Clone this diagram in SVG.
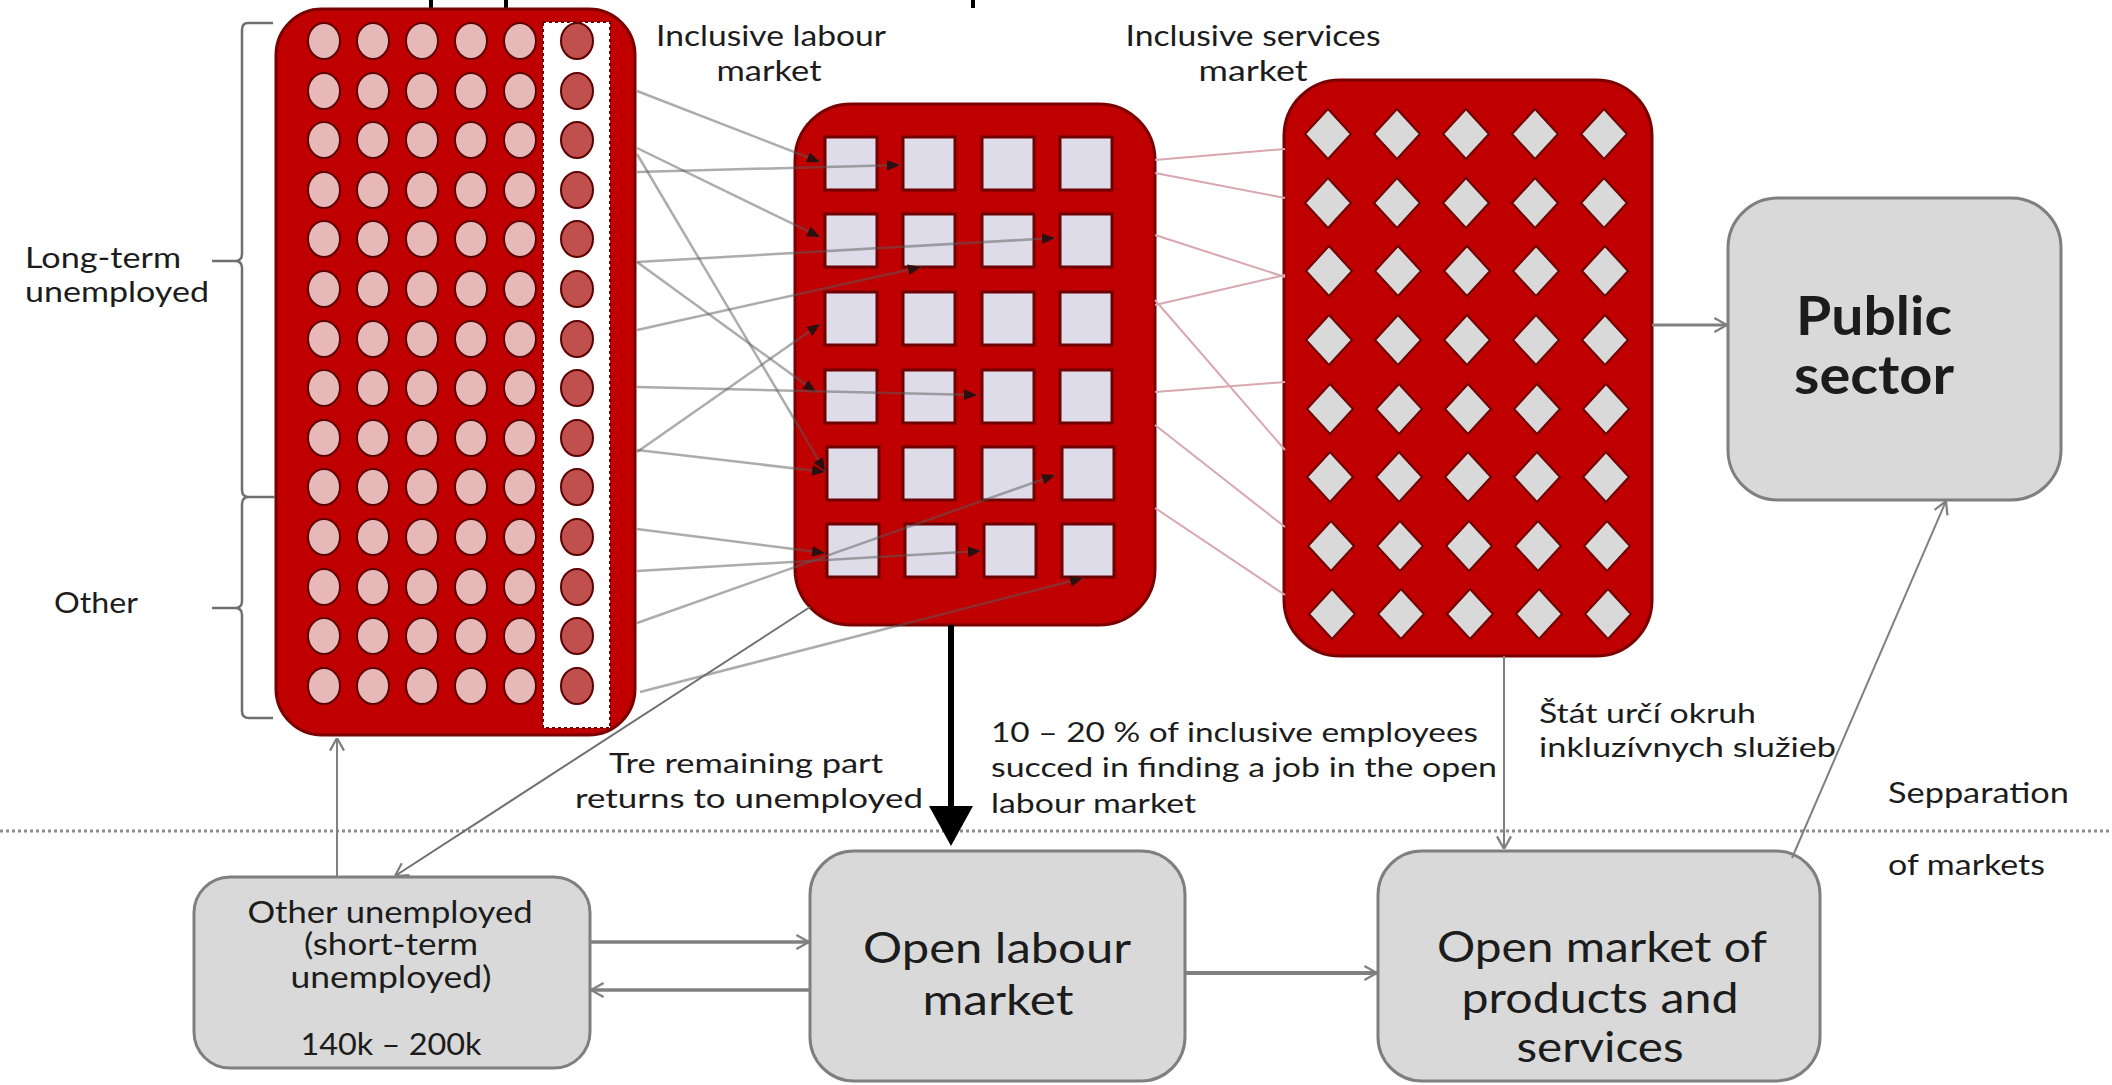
<svg xmlns="http://www.w3.org/2000/svg" xmlns:xlink="http://www.w3.org/1999/xlink" width="2112" height="1085" viewBox="0 0 2112 1085">
  <style>
    .txt { font-family: Lato, "Liberation Sans", sans-serif; fill: #1c1c1c; }
    .s28 { font-size: 28px; }
    .s27 { font-size: 27px; }
    .s30 { font-size: 30px; }
    .s42 { font-size: 42px; }
    .s54 { font-size: 54px; font-weight: bold; }
    .redbox { fill: #c00000; stroke: #7a0000; stroke-width: 3; }
    .greybox { fill: #d9d9d9; stroke: #7f7f7f; stroke-width: 3; }
    .dotL { fill: #e6b9b8; stroke: #5e0000; stroke-width: 2; }
    .dotD { fill: #c0504d; stroke: #5e0000; stroke-width: 2; }
    .sq { fill: #dedce9; stroke: #6e0000; stroke-width: 3; }
    .dia { fill: #d9d9d9; stroke: #6e0000; stroke-width: 2; }
    .flow { stroke: #5a5a5a; stroke-opacity: 0.5; stroke-width: 2.5; fill: none; }
    .pink { stroke: #d9a7b0; stroke-width: 2; fill: none; }
    .grey { stroke: #808080; fill: none; }
    .brace { stroke: #6f6f6f; stroke-width: 2.5; fill: none; }
  </style>
  <defs>
    <marker id="head-flow" viewBox="0 0 12 10" refX="12" refY="5" markerWidth="13" markerHeight="11" markerUnits="userSpaceOnUse" orient="auto">
      <path d="M0,0 L12,5 L0,10 z" fill="#2b1010"/>
    </marker>
    <marker id="head-open" viewBox="0 0 10 12" refX="10" refY="6" markerWidth="14" markerHeight="17" markerUnits="userSpaceOnUse" orient="auto">
      <path d="M1,1 L10,6 L1,11" fill="none" stroke="#7f7f7f" stroke-width="1.6"/>
    </marker>
    <marker id="head-big" viewBox="0 0 40 44" refX="12" refY="22" markerWidth="40" markerHeight="44" markerUnits="userSpaceOnUse" orient="auto">
      <path d="M0,0 L40,22 L0,44 z" fill="#000"/>
    </marker>
    <ellipse id="dot" cx="0" cy="0" rx="16" ry="18"/>
    <rect id="cell" x="0" y="0" width="52" height="53"/>
    <path id="dm" d="M0,-25 L23,0 L0,25 L-23,0 z"/>
  </defs>

  <rect width="2112" height="1085" fill="#ffffff"/>

  <!-- descenders of the heading that runs above the top edge -->
  <g id="heading-edge" stroke="#000" stroke-width="4">
    <line x1="431" y1="0" x2="431" y2="10"/>
    <line x1="506" y1="0" x2="506" y2="10"/>
    <line x1="973" y1="0" x2="973" y2="8"/>
  </g>

  <!-- unemployed pool -->
  <g id="unemployed-pool">
    <rect class="redbox" x="276" y="9" width="359" height="726" rx="46"/>
    <rect x="543" y="22" width="67" height="706" fill="#ffffff" stroke="#6e0000" stroke-width="2" stroke-dasharray="3 3"/>
    <g class="dotL">
      <use href="#dot" x="324" y="41"/><use href="#dot" x="373" y="41"/><use href="#dot" x="422" y="41"/><use href="#dot" x="471" y="41"/><use href="#dot" x="520" y="41"/>
      <use href="#dot" x="324" y="91"/><use href="#dot" x="373" y="91"/><use href="#dot" x="422" y="91"/><use href="#dot" x="471" y="91"/><use href="#dot" x="520" y="91"/>
      <use href="#dot" x="324" y="140"/><use href="#dot" x="373" y="140"/><use href="#dot" x="422" y="140"/><use href="#dot" x="471" y="140"/><use href="#dot" x="520" y="140"/>
      <use href="#dot" x="324" y="190"/><use href="#dot" x="373" y="190"/><use href="#dot" x="422" y="190"/><use href="#dot" x="471" y="190"/><use href="#dot" x="520" y="190"/>
      <use href="#dot" x="324" y="239"/><use href="#dot" x="373" y="239"/><use href="#dot" x="422" y="239"/><use href="#dot" x="471" y="239"/><use href="#dot" x="520" y="239"/>
      <use href="#dot" x="324" y="289"/><use href="#dot" x="373" y="289"/><use href="#dot" x="422" y="289"/><use href="#dot" x="471" y="289"/><use href="#dot" x="520" y="289"/>
      <use href="#dot" x="324" y="339"/><use href="#dot" x="373" y="339"/><use href="#dot" x="422" y="339"/><use href="#dot" x="471" y="339"/><use href="#dot" x="520" y="339"/>
      <use href="#dot" x="324" y="388"/><use href="#dot" x="373" y="388"/><use href="#dot" x="422" y="388"/><use href="#dot" x="471" y="388"/><use href="#dot" x="520" y="388"/>
      <use href="#dot" x="324" y="438"/><use href="#dot" x="373" y="438"/><use href="#dot" x="422" y="438"/><use href="#dot" x="471" y="438"/><use href="#dot" x="520" y="438"/>
      <use href="#dot" x="324" y="487"/><use href="#dot" x="373" y="487"/><use href="#dot" x="422" y="487"/><use href="#dot" x="471" y="487"/><use href="#dot" x="520" y="487"/>
      <use href="#dot" x="324" y="537"/><use href="#dot" x="373" y="537"/><use href="#dot" x="422" y="537"/><use href="#dot" x="471" y="537"/><use href="#dot" x="520" y="537"/>
      <use href="#dot" x="324" y="587"/><use href="#dot" x="373" y="587"/><use href="#dot" x="422" y="587"/><use href="#dot" x="471" y="587"/><use href="#dot" x="520" y="587"/>
      <use href="#dot" x="324" y="636"/><use href="#dot" x="373" y="636"/><use href="#dot" x="422" y="636"/><use href="#dot" x="471" y="636"/><use href="#dot" x="520" y="636"/>
      <use href="#dot" x="324" y="686"/><use href="#dot" x="373" y="686"/><use href="#dot" x="422" y="686"/><use href="#dot" x="471" y="686"/><use href="#dot" x="520" y="686"/>
    </g>
    <g class="dotD">
      <use href="#dot" x="577" y="41"/><use href="#dot" x="577" y="91"/><use href="#dot" x="577" y="140"/><use href="#dot" x="577" y="190"/>
      <use href="#dot" x="577" y="239"/><use href="#dot" x="577" y="289"/><use href="#dot" x="577" y="339"/><use href="#dot" x="577" y="388"/>
      <use href="#dot" x="577" y="438"/><use href="#dot" x="577" y="487"/><use href="#dot" x="577" y="537"/><use href="#dot" x="577" y="587"/>
      <use href="#dot" x="577" y="636"/><use href="#dot" x="577" y="686"/>
    </g>
  </g>

  <!-- braces and group labels -->
  <g id="group-labels">
    <path class="brace" d="M273,23 L248,23 Q242,23 242,30 L242,254 Q242,261 235,261 L212,261 M235,261 Q242,261 242,268 L242,490 Q242,497 249,497 L275,497 M249,497 Q242,497 242,504 L242,601 Q242,608 235,608 L212,608 M235,608 Q242,608 242,615 L242,711 Q242,718 249,718 L273,718"/>
    <text class="txt s28" x="25" y="268" textLength="156" lengthAdjust="spacingAndGlyphs">Long-term</text>
    <text class="txt s28" x="25" y="302" textLength="184" lengthAdjust="spacingAndGlyphs">unemployed</text>
    <text class="txt s28" x="54" y="613" textLength="84" lengthAdjust="spacingAndGlyphs">Other</text>
  </g>

  <!-- inclusive labour market -->
  <g id="inclusive-labour-market">
    <rect class="redbox" x="795" y="104" width="360" height="521" rx="56"/>
    <g class="sq">
      <use href="#cell" x="825" y="137"/><use href="#cell" x="903" y="137"/><use href="#cell" x="982" y="137"/><use href="#cell" x="1060" y="137"/>
      <use href="#cell" x="825" y="214"/><use href="#cell" x="903" y="214"/><use href="#cell" x="982" y="214"/><use href="#cell" x="1060" y="214"/>
      <use href="#cell" x="825" y="292"/><use href="#cell" x="903" y="292"/><use href="#cell" x="982" y="292"/><use href="#cell" x="1060" y="292"/>
      <use href="#cell" x="825" y="370"/><use href="#cell" x="903" y="370"/><use href="#cell" x="982" y="370"/><use href="#cell" x="1060" y="370"/>
      <use href="#cell" x="827" y="447"/><use href="#cell" x="903" y="447"/><use href="#cell" x="982" y="447"/><use href="#cell" x="1062" y="447"/>
      <use href="#cell" x="827" y="524"/><use href="#cell" x="905" y="524"/><use href="#cell" x="984" y="524"/><use href="#cell" x="1062" y="524"/>
    </g>
    <text class="txt s28" x="771" y="46" text-anchor="middle" textLength="230" lengthAdjust="spacingAndGlyphs">Inclusive labour</text>
    <text class="txt s28" x="769" y="81" text-anchor="middle" textLength="105" lengthAdjust="spacingAndGlyphs">market</text>
  </g>

  <!-- inclusive services market -->
  <g id="inclusive-services-market">
    <rect class="redbox" x="1284" y="80" width="368" height="576" rx="56"/>
    <g class="dia">
      <use href="#dm" x="1328" y="134"/><use href="#dm" x="1397" y="134"/><use href="#dm" x="1466" y="134"/><use href="#dm" x="1535" y="134"/><use href="#dm" x="1604" y="134"/>
      <use href="#dm" x="1328" y="203"/><use href="#dm" x="1397" y="203"/><use href="#dm" x="1466" y="203"/><use href="#dm" x="1535" y="203"/><use href="#dm" x="1604" y="203"/>
      <use href="#dm" x="1329" y="271"/><use href="#dm" x="1398" y="271"/><use href="#dm" x="1467" y="271"/><use href="#dm" x="1536" y="271"/><use href="#dm" x="1605" y="271"/>
      <use href="#dm" x="1329" y="340"/><use href="#dm" x="1398" y="340"/><use href="#dm" x="1467" y="340"/><use href="#dm" x="1536" y="340"/><use href="#dm" x="1605" y="340"/>
      <use href="#dm" x="1330" y="409"/><use href="#dm" x="1399" y="409"/><use href="#dm" x="1468" y="409"/><use href="#dm" x="1537" y="409"/><use href="#dm" x="1606" y="409"/>
      <use href="#dm" x="1330" y="477"/><use href="#dm" x="1399" y="477"/><use href="#dm" x="1468" y="477"/><use href="#dm" x="1537" y="477"/><use href="#dm" x="1606" y="477"/>
      <use href="#dm" x="1331" y="546"/><use href="#dm" x="1400" y="546"/><use href="#dm" x="1469" y="546"/><use href="#dm" x="1538" y="546"/><use href="#dm" x="1607" y="546"/>
      <use href="#dm" x="1332" y="614"/><use href="#dm" x="1401" y="614"/><use href="#dm" x="1470" y="614"/><use href="#dm" x="1539" y="614"/><use href="#dm" x="1608" y="614"/>
    </g>
    <text class="txt s28" x="1253" y="46" text-anchor="middle" textLength="255" lengthAdjust="spacingAndGlyphs">Inclusive services</text>
    <text class="txt s28" x="1253" y="81" text-anchor="middle" textLength="109" lengthAdjust="spacingAndGlyphs">market</text>
  </g>

  <!-- public sector -->
  <g id="public-sector">
    <rect class="greybox" x="1728" y="198" width="333" height="302" rx="50"/>
    <text class="txt s54" x="1874" y="335" text-anchor="middle" textLength="156" lengthAdjust="spacingAndGlyphs">Public</text>
    <text class="txt s54" x="1874" y="394" text-anchor="middle" textLength="160" lengthAdjust="spacingAndGlyphs">sector</text>
  </g>

  <!-- other unemployed -->
  <g id="other-unemployed">
    <rect class="greybox" x="194" y="877" width="396" height="191" rx="36"/>
    <text class="txt s30" x="390" y="923" text-anchor="middle" textLength="285" lengthAdjust="spacingAndGlyphs">Other unemployed</text>
    <text class="txt s30" x="391" y="955" text-anchor="middle" textLength="174" lengthAdjust="spacingAndGlyphs">(short-term</text>
    <text class="txt s30" x="391" y="988" text-anchor="middle" textLength="201" lengthAdjust="spacingAndGlyphs">unemployed)</text>
    <text class="txt s30" x="391" y="1055" text-anchor="middle" textLength="181" lengthAdjust="spacingAndGlyphs">140k – 200k</text>
  </g>

  <!-- open labour market -->
  <g id="open-labour-market">
    <rect class="greybox" x="810" y="851" width="375" height="230" rx="44"/>
    <text class="txt s42" x="997" y="963" text-anchor="middle" textLength="268" lengthAdjust="spacingAndGlyphs">Open labour</text>
    <text class="txt s42" x="998" y="1015" text-anchor="middle" textLength="151" lengthAdjust="spacingAndGlyphs">market</text>
  </g>

  <!-- open market of products and services -->
  <g id="open-products-market">
    <rect class="greybox" x="1378" y="851" width="442" height="230" rx="44"/>
    <text class="txt s42" x="1602" y="962" text-anchor="middle" textLength="330" lengthAdjust="spacingAndGlyphs">Open market of</text>
    <text class="txt s42" x="1600" y="1013" text-anchor="middle" textLength="277" lengthAdjust="spacingAndGlyphs">products and</text>
    <text class="txt s42" x="1600" y="1062" text-anchor="middle" textLength="167" lengthAdjust="spacingAndGlyphs">services</text>
  </g>

  <!-- market separation line and its caption -->
  <g id="market-separation">
    <line x1="0" y1="831" x2="2112" y2="831" stroke="#8c8c8c" stroke-width="3" stroke-dasharray="3 3"/>
    <text class="txt s28" x="1888" y="803" textLength="181" lengthAdjust="spacingAndGlyphs">Sepparation</text>
    <text class="txt s28" x="1888" y="875" textLength="157" lengthAdjust="spacingAndGlyphs">of markets</text>
  </g>

  <!-- connectors -->
  <g id="connectors">
    <!-- unemployed pool into inclusive jobs -->
    <g class="flow" marker-end="url(#head-flow)">
      <line x1="637" y1="91" x2="820" y2="162"/>
      <line x1="637" y1="148" x2="820" y2="237"/>
      <line x1="637" y1="172" x2="900" y2="165"/>
      <line x1="637" y1="154" x2="825" y2="471"/>
      <line x1="637" y1="262" x2="1055" y2="238"/>
      <line x1="637" y1="262" x2="816" y2="392"/>
      <line x1="637" y1="330" x2="921" y2="267"/>
      <line x1="637" y1="387" x2="977" y2="395"/>
      <line x1="637" y1="452" x2="820" y2="324"/>
      <line x1="637" y1="450" x2="825" y2="472"/>
      <line x1="637" y1="529" x2="825" y2="553"/>
      <line x1="637" y1="571" x2="981" y2="551"/>
      <line x1="637" y1="623" x2="1055" y2="475"/>
      <line x1="640" y1="692" x2="1083" y2="578"/>
    </g>
    <!-- inclusive labour market to inclusive services -->
    <g class="pink">
      <line x1="1155" y1="160" x2="1285" y2="149"/>
      <line x1="1155" y1="173" x2="1285" y2="198"/>
      <line x1="1155" y1="235" x2="1285" y2="277"/>
      <line x1="1155" y1="305" x2="1285" y2="275"/>
      <line x1="1155" y1="300" x2="1285" y2="450"/>
      <line x1="1155" y1="392" x2="1285" y2="382"/>
      <line x1="1155" y1="425" x2="1285" y2="527"/>
      <line x1="1155" y1="508" x2="1285" y2="595"/>
    </g>
    <!-- remaining part returns to unemployed -->
    <line x1="810" y1="607" x2="395" y2="876" stroke="#707070" stroke-width="2" marker-end="url(#head-open)"/>
    <!-- 10-20 % into the open labour market -->
    <line x1="951" y1="625" x2="951" y2="818" stroke="#000" stroke-width="6" marker-end="url(#head-big)"/>
    <!-- short-term unemployed to the pool -->
    <line class="grey" x1="337" y1="877" x2="337" y2="738" stroke-width="2" marker-end="url(#head-open)"/>
    <!-- short-term unemployed and open labour market -->
    <line class="grey" x1="590" y1="942" x2="809" y2="942" stroke-width="3.5" marker-end="url(#head-open)"/>
    <line class="grey" x1="810" y1="990" x2="591" y2="990" stroke-width="3.5" marker-end="url(#head-open)"/>
    <!-- open labour market to products market -->
    <line class="grey" x1="1185" y1="973" x2="1377" y2="973" stroke-width="4" marker-end="url(#head-open)"/>
    <!-- state defines inclusive services -->
    <line class="grey" x1="1504" y1="656" x2="1504" y2="849" stroke-width="2" marker-end="url(#head-open)"/>
    <!-- products market to public sector -->
    <line class="grey" x1="1792" y1="858" x2="1946" y2="501" stroke-width="2" marker-end="url(#head-open)"/>
    <!-- inclusive services to public sector -->
    <line class="grey" x1="1652" y1="325" x2="1727" y2="325" stroke-width="3" marker-end="url(#head-open)"/>
  </g>

  <!-- connector captions -->
  <g id="connector-labels">
    <text class="txt s27" x="991" y="742" textLength="487" lengthAdjust="spacingAndGlyphs">10 – 20 % of inclusive employees</text>
    <text class="txt s27" x="991" y="777" textLength="506" lengthAdjust="spacingAndGlyphs">succed in finding a job in the open</text>
    <text class="txt s27" x="991" y="813" textLength="205" lengthAdjust="spacingAndGlyphs">labour market</text>
    <text class="txt s27" x="746" y="773" text-anchor="middle" textLength="274" lengthAdjust="spacingAndGlyphs">Tre remaining part</text>
    <text class="txt s27" x="749" y="808" text-anchor="middle" textLength="348" lengthAdjust="spacingAndGlyphs">returns to unemployed</text>
    <text class="txt s27" x="1539" y="723" textLength="217" lengthAdjust="spacingAndGlyphs">Štát určí okruh</text>
    <text class="txt s27" x="1539" y="757" textLength="297" lengthAdjust="spacingAndGlyphs">inkluzívnych služieb</text>
  </g>
</svg>
